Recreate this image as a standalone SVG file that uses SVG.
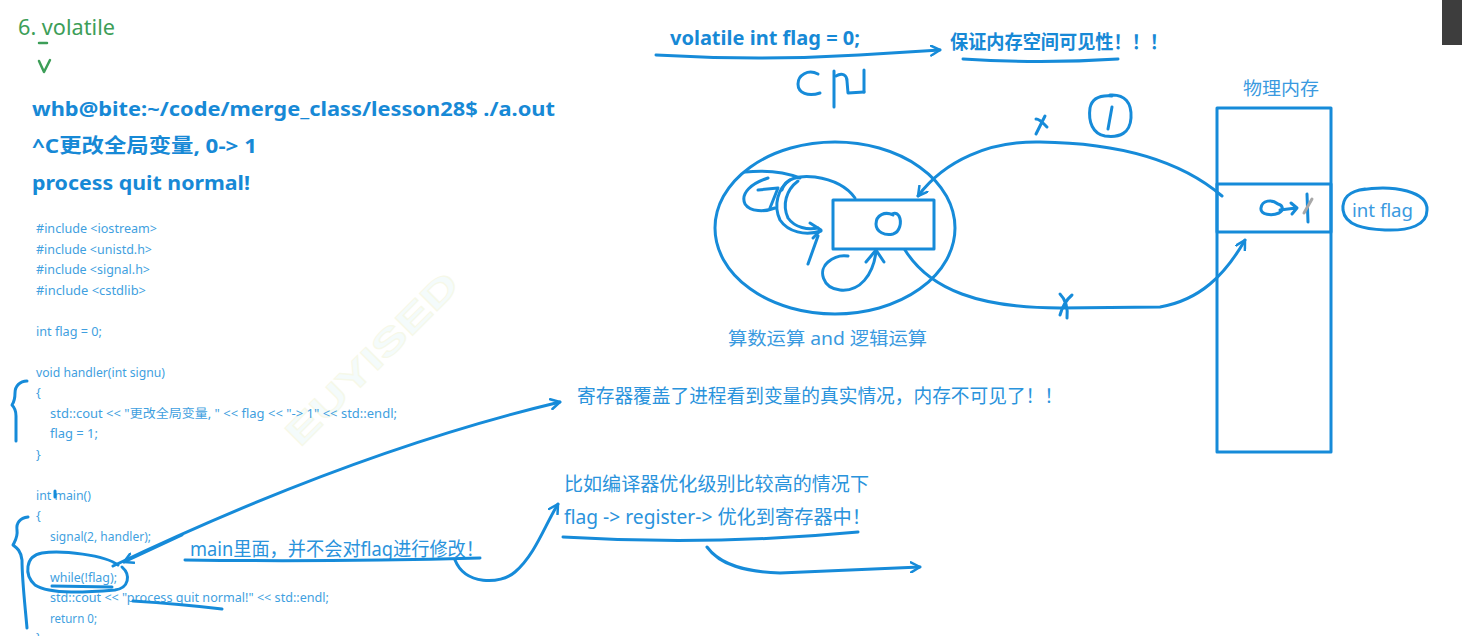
<svg xmlns="http://www.w3.org/2000/svg" width="1462" height="636" viewBox="0 0 1462 636">
<style>
.hw{fill:none;stroke:#168bd9;stroke-width:3;stroke-linecap:round;stroke-linejoin:round}
.gr{fill:none;stroke:#3d9e58;stroke-width:2.5;stroke-linecap:round;stroke-linejoin:round}
.term{font-family:"Noto Sans","Noto Sans CJK SC",sans-serif;font-weight:700;font-size:20px;fill:#1789d6}
.code{font-family:"Noto Sans","Noto Sans CJK SC",sans-serif;font-size:12.5px;fill:#3f9fe0}
.note{font-family:"Noto Sans","Noto Sans CJK SC",sans-serif;font-size:19px;fill:#2a93dc}
.lbl{font-family:"Noto Sans","Noto Sans CJK SC",sans-serif;font-size:18px;fill:#3a9ae0}
.bold{font-family:"Noto Sans","Noto Sans CJK SC",sans-serif;font-weight:700;font-size:19px;fill:#1789d6}
</style>
<defs>
<marker id="ah" viewBox="0 0 12 12" refX="10" refY="6" markerWidth="12" markerHeight="12" markerUnits="userSpaceOnUse" orient="auto">
<path d="M1,1 L10,6 L1,11" fill="none" stroke="#168bd9" stroke-width="2.5" stroke-linecap="round" stroke-linejoin="round"/>
</marker>
</defs>
<rect width="1462" height="636" fill="#ffffff"/>
<rect x="1442" y="0" width="20" height="45" fill="#3d3d3d"/>
<text x="0" y="0" transform="translate(300,448) rotate(-45)" font-family="Liberation Sans, sans-serif" font-size="36" font-weight="700" fill="#f4fbfb" stroke="#f6f8e8" stroke-width="1" textLength="228" lengthAdjust="spacingAndGlyphs">EUYISED</text>

<g id="title">
<text x="18" y="35" font-family="Noto Sans, sans-serif" font-size="21" fill="#3d9e58" textLength="97" lengthAdjust="spacingAndGlyphs">6. volatile</text>
<path class="gr" d="M39,43 L47,43"/>
<path class="gr" d="M39,61 L44,72 L50,60"/>
</g>

<g id="terminal">
<text class="term" x="32" y="116" textLength="523" lengthAdjust="spacingAndGlyphs">whb@bite:~/code/merge_class/lesson28$ ./a.out</text>
<text class="term" x="32" y="153" textLength="225" lengthAdjust="spacingAndGlyphs">^C更改全局变量, 0-&gt; 1</text>
<text class="term" x="32" y="190" textLength="218" lengthAdjust="spacingAndGlyphs">process quit normal!</text>
</g>

<g id="code">
<text class="code" x="36" y="233" textLength="121" lengthAdjust="spacingAndGlyphs">#include &lt;iostream&gt;</text>
<text class="code" x="36" y="254" textLength="116" lengthAdjust="spacingAndGlyphs">#include &lt;unistd.h&gt;</text>
<text class="code" x="36" y="274" textLength="114" lengthAdjust="spacingAndGlyphs">#include &lt;signal.h&gt;</text>
<text class="code" x="36" y="295" textLength="110" lengthAdjust="spacingAndGlyphs">#include &lt;cstdlib&gt;</text>
<text class="code" x="36" y="336" textLength="66" lengthAdjust="spacingAndGlyphs">int flag = 0;</text>
<text class="code" x="36" y="377" textLength="129" lengthAdjust="spacingAndGlyphs">void handler(int signu)</text>
<text class="code" x="36" y="397">{</text>
<text class="code" x="50" y="418" textLength="347" lengthAdjust="spacingAndGlyphs">std::cout &lt;&lt; "更改全局变量, " &lt;&lt; flag &lt;&lt; "-&gt; 1" &lt;&lt; std::endl;</text>
<text class="code" x="50" y="438" textLength="48" lengthAdjust="spacingAndGlyphs">flag = 1;</text>
<text class="code" x="36" y="459">}</text>
<text class="code" x="36" y="500" textLength="55" lengthAdjust="spacingAndGlyphs">int main()</text>
<text class="code" x="36" y="520">{</text>
<text class="code" x="50" y="541" textLength="101" lengthAdjust="spacingAndGlyphs">signal(2, handler);</text>
<text class="code" x="50" y="582" textLength="67" lengthAdjust="spacingAndGlyphs">while(!flag);</text>
<text class="code" x="50" y="602" textLength="279" lengthAdjust="spacingAndGlyphs">std::cout &lt;&lt; "process quit normal!" &lt;&lt; std::endl;</text>
<text class="code" x="50" y="623" textLength="47" lengthAdjust="spacingAndGlyphs">return 0;</text>
<text class="code" x="36" y="642">}</text>
</g>

<g id="code-marks">
<path class="hw" d="M27,381 C20,381 15,386 15,393 C15,399 14,402 12,405 C15,408 16,411 16,416 L16,441"/>
<path class="hw" d="M28,517 C20,518 16,523 17,530 C18,537 15,541 13,545 C17,548 21,551 22,560 C22,580 25,605 27,628"/>
<path class="hw" d="M118,565 C105,555 62,550 42,553 C25,556 24,575 35,585 C50,595 90,592 115,590 C129,588 131,575 122,567"/>
<path class="hw" d="M52,586 L112,587" stroke-width="4.5"/>
<path class="hw" d="M133,601 Q180,604 222,609"/>
<path class="hw" d="M55,491 L55,497" stroke-width="2.5"/>
</g>

<g id="note-main">
<text class="note" x="190" y="556" textLength="294" lengthAdjust="spacingAndGlyphs">main里面，并不会对flag进行修改！</text>
<path class="hw" d="M185,560 Q330,562 480,558"/>
</g>

<g id="note-register">
<text class="note" x="577" y="403" font-size="18.5" textLength="486" lengthAdjust="spacingAndGlyphs">寄存器覆盖了进程看到变量的真实情况，内存不可见了！！</text>
</g>

<g id="note-optimize">
<text class="note" x="564" y="491" textLength="305" lengthAdjust="spacingAndGlyphs">比如编译器优化级别比较高的情况下</text>
<text class="note" x="564" y="524" textLength="307" lengthAdjust="spacingAndGlyphs">flag -&gt; register-&gt; 优化到寄存器中！</text>
<path class="hw" d="M563,537 Q710,546 858,532"/>
</g>

<g id="volatile-decl">
<text class="bold" x="670" y="45" textLength="190" lengthAdjust="spacingAndGlyphs">volatile int flag = 0;</text>
</g>

<g id="visibility">
<text class="bold" x="950" y="49" textLength="218" lengthAdjust="spacingAndGlyphs">保证内存空间可见性！！！</text>
<path class="hw" d="M963,59 Q1040,64 1118,59"/>
</g>

<g id="cpu">
<path class="hw" d="M818,74 C808,69 798,75 798,84 C798,93 808,97 820,93"/>
<path class="hw" d="M834,71 L834,107"/>
<path class="hw" d="M836,76 C842,72 847,75 847,81 L848,93 L864,92"/>
<path class="hw" d="M864,70 L864,92"/>
<ellipse class="hw" cx="835" cy="228" rx="120" ry="86"/>
<rect class="hw" x="833" y="200" width="101" height="49"/>
<path class="hw" d="M893,215 C885,211 876,215 876,224 C876,232 885,236 893,234 C900,232 902,222 899,216 C897,213 894,213 892,214"/>
<path class="hw" d="M745,172 C765,170 785,172 800,178"/>
<path class="hw" d="M768,178 C752,183 740,193 745,204 C750,212 765,212 775,208"/>
<path class="hw" d="M758,190 L778,188 L770,208"/>
<path class="hw" d="M782,190 C785,178 800,175 815,177 C835,180 848,188 855,198"/>
<path class="hw" d="M790,180 C778,188 773,205 780,220 C788,232 805,236 821,231"/>
<path class="hw" d="M798,181 C786,190 782,205 788,218 C795,228 808,230 818,228"/>
<path class="hw" d="M810,223 L821,230 L813,238"/>
<path class="hw" d="M818,236 L808,264"/>
<path class="hw" d="M876,252 C873,275 860,292 840,290 C822,288 818,270 828,262 C835,256 842,255 848,256"/>
<path class="hw" d="M866,262 L876,250 L884,262"/>
<text class="lbl" x="728" y="345" textLength="199" lengthAdjust="spacingAndGlyphs">算数运算 and 逻辑运算</text>
</g>

<g id="memory">
<text class="lbl" x="1243" y="95" textLength="76" lengthAdjust="spacingAndGlyphs">物理内存</text>
<rect class="hw" x="1217" y="108" width="114" height="344"/>
<rect class="hw" x="1217" y="184" width="114" height="48" stroke-width="3.5"/>
<path class="hw" d="M1278,204 C1272,199 1262,200 1261,208 C1260,215 1272,216 1279,213 C1284,210 1283,205 1278,204" stroke-width="2.5"/>
<path class="hw" d="M1280,210 L1296,208 M1291,203 L1297,208 L1292,214" stroke-width="2.5"/>
<path class="hw" d="M1307,194 L1308,222" stroke-width="2.5"/>
<path d="M1304,213 L1312,199" stroke="#a8a8a8" stroke-width="3" stroke-linecap="round"/>
</g>

<g id="int-flag">
<text class="lbl" x="1352" y="217" font-size="19" textLength="61" lengthAdjust="spacingAndGlyphs">int flag</text>
<path class="hw" d="M1360,190 C1395,184 1428,192 1427,210 C1427,225 1410,231 1385,230 C1365,229 1345,226 1343,210 C1342,197 1350,191 1365,189" stroke-width="2.5"/>
</g>

<g id="connectors">
<path class="hw" d="M656,55 Q760,61 859,55 L940,50" marker-end="url(#ah)"/>
<path class="hw" d="M1222,196 C1180,160 1120,143 1040,142 C990,141 945,160 918,196" marker-end="url(#ah)"/>
<path class="hw" d="M905,250 C930,290 980,308 1060,308 L1160,307 C1200,300 1225,275 1245,240" marker-end="url(#ah)"/>
<path class="hw" d="M1036,119 C1040,119 1044,124 1047,127 M1045,116 L1036,134"/>
<path class="hw" d="M1060,294 C1066,300 1068,308 1067,318 M1072,295 C1066,300 1062,308 1060,315"/>
<path class="hw" d="M1110,95 C1125,94 1132,103 1131,118 C1130,133 1120,138 1105,136 C1093,134 1088,122 1090,108 C1092,98 1100,95 1112,96" stroke-width="2.5"/>
<path class="hw" d="M1112,107 L1108,129"/>
<path class="hw" d="M113,566 C220,515 380,445 560,402" marker-end="url(#ah)"/>
<path class="hw" d="M182,535 L124,562" marker-end="url(#ah)"/>
<path class="hw" d="M455,560 C465,585 500,585 515,572 C535,555 545,525 558,504" marker-end="url(#ah)"/>
<path class="hw" d="M707,547 C720,565 745,572 780,573 L920,567" marker-end="url(#ah)"/>
</g>
</svg>
